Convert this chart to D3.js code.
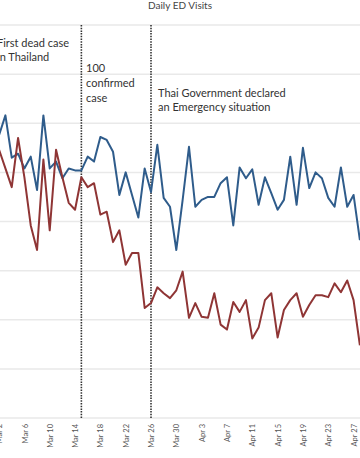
<!DOCTYPE html>
<html>
<head>
<meta charset="utf-8">
<script src="https://cdn.jsdelivr.net/npm/d3@7"></script>
<style>
  html, body { margin: 0; padding: 0; background: #fff; }
  svg { display: block; font-family: Lato, "Noto Sans", sans-serif; }
</style>
</head>
<body>
<svg id="chart" width="360" height="458"></svg>
<script>
// ---- data (daily values, Mar 1 .. Apr 28, 2020) ----
const startDate = "2020-03-01";
const endDate = "2020-04-29";
const seriesA = [273, 288, 308, 265, 269, 254, 266, 232, 308, 254, 261, 244, 254, 252, 252, 266, 261, 286, 283, 271, 227, 250, 227, 204, 254, 230, 278, 224, 215, 171, 222,
                 276, 215, 222, 225, 225, 239, 245, 196, 255, 244, 253, 217, 245, 229, 212, 222, 266, 217, 275, 234, 250, 244, 224, 215, 255, 215, 227, 181];
const seriesB = [283, 273, 254, 235, 285, 245, 196, 171, 263, 191, 273, 245, 219, 212, 245, 235, 239, 207, 210, 179, 191, 156, 168, 168, 112, 117, 133, 127, 122, 130, 149,
                 102, 117, 103, 102, 127, 95, 90, 118, 108, 120, 81, 92, 120, 127, 82, 110, 120, 127, 103, 115, 125, 125, 123, 137, 128, 140, 120, 74];
const tickLabels = ["Mar 2", "Mar 6", "Mar 10", "Mar 14", "Mar 18", "Mar 22", "Mar 26", "Mar 30",
                    "Apr 3", "Apr 7", "Apr 11", "Apr 15", "Apr 19", "Apr 23", "Apr 27"];
const gridValues = [0, 50, 100, 150, 200, 250, 300, 350, 400];
const eventDates = ["2020-03-15", "2020-03-26"];
const annotations = [
  { lines: ["First dead case", "in Thailand"] },
  { lines: ["100", "confirmed", "case"] },
  { lines: ["Thai Government declared", "an Emergency situation"] }
];
const title = "Daily ED Visits";

// ---- setup ----
const parseISO = d3.utcParse("%Y-%m-%d");
const parseTick = d3.utcParse("%b %d %Y");
const days = d3.utcDays(parseISO(startDate), parseISO(endDate));
const svg = d3.select("#chart");

const x = d3.scaleUtc()
  .domain([parseTick("Mar 2 2020"), parseTick("Apr 27 2020")])
  .range([-0.92, 353.56]);
const y = d3.scaleLinear().domain([0, 400]).range([418, 25]);

// gridlines
svg.append("g").selectAll("line")
  .data(gridValues)
  .join("line")
  .attr("x1", 0).attr("x2", 360)
  .attr("y1", d => y(d)).attr("y2", d => y(d))
  .attr("stroke", "#e9e9e9")
  .attr("stroke-width", 1.5);

// x axis labels
const tickDates = tickLabels.map(t => parseTick(t + " 2020"));
const xAxis = d3.axisBottom(x)
  .tickValues(tickDates)
  .tickFormat((d, i) => tickLabels[i])
  .tickSize(0)
  .tickPadding(0);
const gx = svg.append("g").attr("transform", "translate(0,418)").call(xAxis);
gx.select(".domain").remove();
gx.selectAll("text")
  .attr("transform", "rotate(-90)")
  .attr("text-anchor", "end")
  .attr("x", -6)
  .attr("y", 0)
  .attr("dy", "0.35em")
  .attr("fill", "#555")
  .attr("font-size", 7.5)
  .attr("font-family", "Lato, 'Noto Sans', sans-serif");

// event lines
svg.append("g").selectAll("line")
  .data(eventDates)
  .join("line")
  .attr("x1", d => x(parseISO(d))).attr("x2", d => x(parseISO(d)))
  .attr("y1", y(400)).attr("y2", y(0))
  .attr("stroke", "#333")
  .attr("stroke-width", 1.6)
  .attr("stroke-dasharray", "1.5,1.2");

// series lines
const line = vals => d3.line()
  .x((d, i) => x(days[i]))
  .y(d => y(d))(vals);

svg.append("path")
  .attr("d", line(seriesA))
  .attr("fill", "none")
  .attr("stroke", "#2f5c8b")
  .attr("stroke-width", 2)
  .attr("stroke-linejoin", "round");

svg.append("path")
  .attr("d", line(seriesB))
  .attr("fill", "none")
  .attr("stroke", "#8f3535")
  .attr("stroke-width", 2)
  .attr("stroke-linejoin", "round");

// title
svg.append("text")
  .attr("x", 180).attr("y", 8.5)
  .attr("text-anchor", "middle")
  .attr("font-size", 10)
  .attr("fill", "#444")
  .text(title);

// annotations
const annPos = [
  { x: -3, y0: 47, dy: 13.5 },
  { x: 86, y0: 72, dy: 15.2 },
  { x: 158, y0: 97, dy: 14 }
];
annotations.forEach((a, k) => {
  const t = svg.append("text")
    .attr("font-size", 11)
    .attr("fill", "#333");
  a.lines.forEach((l, j) => {
    t.append("tspan")
      .attr("x", annPos[k].x)
      .attr("y", annPos[k].y0 + j * annPos[k].dy)
      .text(l);
  });
});
</script>
</body>
</html>
